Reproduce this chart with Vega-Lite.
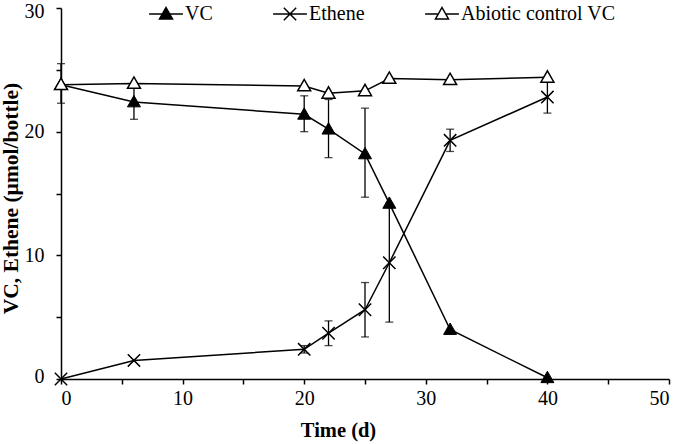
{
  "$schema": "https://vega.github.io/schema/vega-lite/v6.json",
  "width": 608,
  "height": 371,
  "autosize": {"type": "none"},
  "padding": {"left": 61, "top": 8, "right": 11, "bottom": 65},
  "background": "white",
  "config": {
    "view": {"stroke": null},
    "font": "Liberation Serif",
    "axis": {
      "grid": false,
      "domainColor": "black",
      "domainWidth": 1.5,
      "tickColor": "black",
      "tickWidth": 1.5,
      "tickSize": 5,
      "labelFont": "Liberation Serif",
      "labelFontSize": 20,
      "labelColor": "black",
      "titleFont": "Liberation Serif",
      "titleFontSize": 20.5,
      "titleFontWeight": "bold",
      "titleColor": "black"
    }
  },
  "data": {
    "values": [
      {"series": "VC", "time": 0, "value": 23.8, "lo": 22.3, "hi": 25.5},
      {"series": "VC", "time": 6, "value": 22.4, "lo": 21.0, "hi": 23.8},
      {"series": "VC", "time": 20, "value": 21.4, "lo": 20.0, "hi": 22.9},
      {"series": "VC", "time": 22, "value": 20.2, "lo": 17.9, "hi": 22.6},
      {"series": "VC", "time": 25, "value": 18.2, "lo": 14.7, "hi": 21.9},
      {"series": "VC", "time": 27, "value": 14.2, "lo": null, "hi": null},
      {"series": "VC", "time": 32, "value": 4.0, "lo": null, "hi": null},
      {"series": "VC", "time": 40, "value": 0.1, "lo": null, "hi": null},
      {"series": "Ethene", "time": 0, "value": 0.0, "lo": null, "hi": null},
      {"series": "Ethene", "time": 6, "value": 1.5, "lo": null, "hi": null},
      {"series": "Ethene", "time": 20, "value": 2.4, "lo": 2.1, "hi": 2.7},
      {"series": "Ethene", "time": 22, "value": 3.7, "lo": 2.7, "hi": 4.7},
      {"series": "Ethene", "time": 25, "value": 5.6, "lo": 3.4, "hi": 7.8},
      {"series": "Ethene", "time": 27, "value": 9.4, "lo": 4.6, "hi": 14.2},
      {"series": "Ethene", "time": 32, "value": 19.3, "lo": 18.4, "hi": 20.2},
      {"series": "Ethene", "time": 40, "value": 22.8, "lo": 21.5, "hi": 24.0},
      {"series": "Abiotic control VC", "time": 0, "value": 23.8, "lo": null, "hi": null},
      {"series": "Abiotic control VC", "time": 6, "value": 23.9, "lo": null, "hi": null},
      {"series": "Abiotic control VC", "time": 20, "value": 23.7, "lo": null, "hi": null},
      {"series": "Abiotic control VC", "time": 22, "value": 23.1, "lo": null, "hi": null},
      {"series": "Abiotic control VC", "time": 25, "value": 23.3, "lo": null, "hi": null},
      {"series": "Abiotic control VC", "time": 27, "value": 24.3, "lo": null, "hi": null},
      {"series": "Abiotic control VC", "time": 32, "value": 24.2, "lo": null, "hi": null},
      {"series": "Abiotic control VC", "time": 40, "value": 24.4, "lo": null, "hi": null}
    ]
  },
  "encoding": {
    "x": {
      "field": "time", "type": "quantitative",
      "scale": {"domain": [0, 50], "nice": false},
      "axis": {
        "title": "Time (d)",
        "values": [0, 5, 10, 15, 20, 25, 30, 35, 40, 45, 50],
        "labelExpr": "datum.value % 10 === 0 ? datum.label : ''",
        "labelPadding": 4,
        "titlePadding": 12,
        "titleX": 277
      }
    },
    "y": {
      "field": "value", "type": "quantitative",
      "scale": {"domain": [0, 30], "nice": false},
      "axis": {
        "title": "VC, Ethene (µmol/bottle)",
        "values": [0, 5, 10, 15, 20, 25, 30],
        "labelExpr": "datum.value % 10 === 0 ? datum.label : ''",
        "labelPadding": 12,
        "labelFlush": true,
        "labelFlushOffset": 7,
        "titlePadding": 2,
        "titleFontSize": 21.5,
        "titleY": 190
      }
    }
  },
  "layer": [
    {
      "mark": {"type": "line", "color": "black", "strokeWidth": 1.5},
      "encoding": {
        "detail": {"field": "series"},
        "order": {"field": "time"}
      }
    },
    {
      "transform": [{"filter": "datum.lo != null"}],
      "mark": {"type": "rule", "color": "black", "strokeWidth": 1.3},
      "encoding": {
        "y": {"field": "lo", "type": "quantitative"},
        "y2": {"field": "hi"}
      }
    },
    {
      "transform": [{"filter": "datum.lo != null"}],
      "mark": {"type": "tick", "orient": "horizontal", "color": "black", "size": 8, "thickness": 1.3},
      "encoding": {
        "y": {"field": "lo", "type": "quantitative"}
      }
    },
    {
      "transform": [{"filter": "datum.hi != null"}],
      "mark": {"type": "tick", "orient": "horizontal", "color": "black", "size": 8, "thickness": 1.3},
      "encoding": {
        "y": {"field": "hi", "type": "quantitative"}
      }
    },
    {
      "transform": [{"filter": "datum.series === 'VC'"}],
      "mark": {"type": "point", "shape": "M-1,0.75L1,0.75L0,-1Z", "filled": true, "fill": "black", "stroke": "black", "strokeWidth": 1, "size": 169, "opacity": 1}
    },
    {
      "transform": [{"filter": "datum.series === 'Ethene'"}],
      "mark": {"type": "point", "shape": "M-0.95,-0.95L0.95,0.95M-0.95,0.95L0.95,-0.95", "filled": false, "stroke": "black", "strokeWidth": 1.5, "size": 169, "opacity": 1}
    },
    {
      "transform": [{"filter": "datum.series === 'Abiotic control VC'"}],
      "mark": {"type": "point", "shape": "M-1,0.75L1,0.75L0,-1Z", "filled": true, "fill": "white", "stroke": "black", "strokeWidth": 1.5, "size": 169, "opacity": 1}
    },
    {
      "mark": {"type": "point", "filled": false, "stroke": "black", "strokeWidth": 1.5, "size": 169, "opacity": 0},
      "encoding": {
        "shape": {
          "field": "series", "type": "nominal",
          "scale": {
            "domain": ["VC", "Ethene", "Abiotic control VC"],
            "range": [
              "M-2.6,0H-0.571M0.571,0H2.6M-1,0.75L1,0.75L0,-1ZM-0.8,0.633L0.8,0.633L0,-0.767ZM-0.6,0.517L0.6,0.517L0,-0.533ZM-0.4,0.4L0.4,0.4L0,-0.3ZM-0.2,0.283L0.2,0.283L0,-0.067Z",
              "M-2.6,0H2.6M-0.95,-0.95L0.95,0.95M-0.95,0.95L0.95,-0.95",
              "M-2.6,0H-0.571M0.571,0H2.6M-1,0.75L1,0.75L0,-1Z"
            ]
          },
          "legend": {
            "title": null,
            "orient": "none",
            "direction": "horizontal",
            "legendX": 95,
            "legendY": -4,
            "padding": 0,
            "labelFont": "Liberation Serif",
            "labelFontSize": 20,
            "labelColor": "black",
            "labelLimit": 0,
            "labelOffset": 9,
            "columnPadding": 57,
            "symbolSize": 169,
            "symbolOpacity": 1,
            "symbolStrokeWidth": 1.5,
            "symbolStrokeColor": "black",
            "encode": {
              "symbols": {
                "update": {
                  "stroke": {"value": "black"},
                  "opacity": {"value": 1}
                }
              }
            }
          }
        }
      }
    }
  ]
}
